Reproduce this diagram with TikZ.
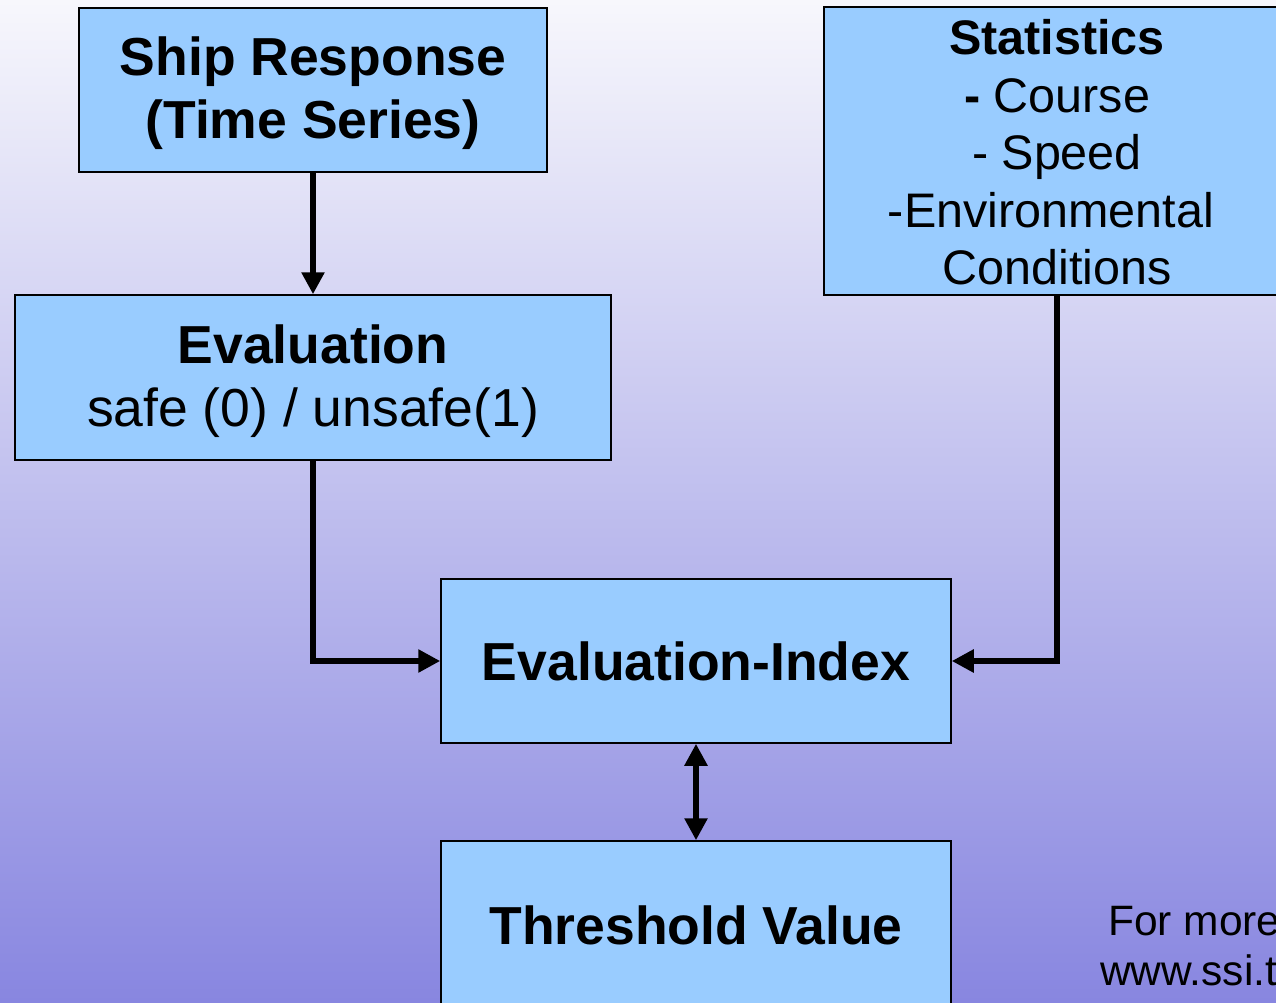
\documentclass[tikz,border=0pt]{standalone}
\usepackage{fontspec}
\setmainfont{Liberation Sans}
\usetikzlibrary{arrows.meta}
\definecolor{boxblue}{HTML}{99CCFF}
\definecolor{bgtop}{RGB}{247,247,252}
\definecolor{bgbot}{RGB}{136,134,224}
\begin{document}
\begin{tikzpicture}[x=1pt,y=-1pt,
  box/.style={draw=black, line width=1.5pt, fill=boxblue, rectangle, inner sep=0pt},
  boxtext/.style={inner sep=0pt, align=center},
  bigfont/.style={font=\fontsize{53.5}{62.5}\selectfont},
  statfont/.style={font=\fontsize{48.5}{57.5}\selectfont},
  conn/.style={line width=6pt, -{Triangle[width=22pt,length=22pt]}},
  dconn/.style={line width=6pt, {Triangle[width=22pt,length=22pt]}-{Triangle[width=22pt,length=22pt]}},
  note/.style={font=\fontsize{42.5}{50}\selectfont, anchor=base west, inner sep=0pt}]
\useasboundingbox (0,0) rectangle (1276,1002);
\begin{scope}
\clip (0,0) rectangle (1276,1002);
\shade[top color=bgtop, bottom color=bgbot] (0,0) rectangle (1276,1002);

\node[box, minimum width=468pt, minimum height=164pt] (ship) at (313,90) {};
\node[boxtext, bigfont] (shipt) at ([yshift=-3pt]ship.center)
  {\bfseries Ship Response\\ \bfseries (Time Series)};
\node[box, minimum width=596pt, minimum height=165pt] (eval) at (313,377.5) {};
\node[boxtext, bigfont] (evalt) at ([yshift=-3.5pt]eval.center)
  {\bfseries Evaluation\\ safe (0) / unsafe(1)};
\node[box, minimum width=466pt, minimum height=288pt] (stat) at (1057,151) {};
\node[boxtext, statfont] (statt) at ([yshift=-1.5pt]stat.center)
  {\bfseries Statistics\\ \textbf{-} Course\\ - Speed\\ \hspace*{-12pt}-Environmental\\ Conditions};
\node[box, minimum width=510pt, minimum height=164pt] (idx) at (696,661) {};
\node[boxtext, bigfont] (idxt) at (idx.center) {\bfseries Evaluation-Index};
\node[box, minimum width=510pt, minimum height=164pt] (thr) at (696,923) {};
\node[boxtext, bigfont] (thrt) at ([yshift=-2pt]thr.center) {\bfseries Threshold Value};

\draw[conn] (ship.south) -- (eval.north);
\draw[conn] (eval.south) |- (idx.west);
\draw[conn] (stat.south) |- (idx.east);
\draw[dconn] (idx.south) -- (thr.north);

\node[note] (more) at (1108,935) {For more};
\node[note] (www) at (1100,985) {www.ssi.t};
\end{scope}
\end{tikzpicture}
\end{document}
